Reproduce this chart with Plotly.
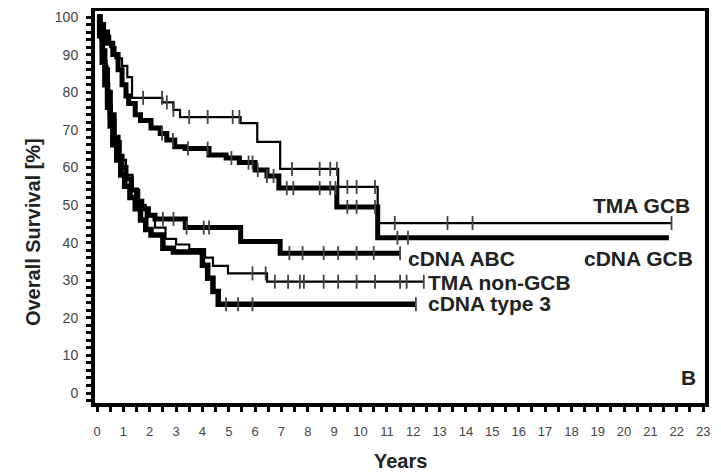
import plotly.graph_objects as go

# ---------------- data ----------------
tma_gcb_t = [0, 0.15, 0.3, 0.5, 0.7, 0.95, 1.15, 1.33, 2.48, 2.9, 3.15, 5.45, 6.08, 6.95, 9.15, 10.65, 21.8]
tma_gcb_s = [100, 97, 95, 92, 89, 87, 84, 78.5, 77.3, 75.3, 73.4, 71.8, 66.8, 59.6, 54.8, 45.2, 45.2]
tma_gcb_c = [1.75, 2.47, 2.65, 2.9, 3.5, 4.2, 5.15, 5.4, 7.4, 8.45, 8.85, 9.1, 9.5, 9.85, 10.55, 11.3, 13.3, 14.25, 21.8]

cdna_gcb_t = [0, 0.12, 0.25, 0.4, 0.6, 0.8, 0.95, 1.1, 1.2, 1.45, 1.65, 2.05, 2.4, 2.65, 2.95, 3.35,
              4.25, 4.9, 5.4, 6.0, 6.45, 6.9, 9.1, 10.65, 21.7]
cdna_gcb_s = [100, 98, 96, 93, 90, 86, 82, 79, 77, 74, 72.5, 70.5, 69, 67.3, 65.5, 65,
              63.3, 62.5, 61.3, 59.3, 57.7, 54.5, 49.5, 41.3, 41.3]
cdna_gcb_c = [2.47, 2.88, 3.45, 4.2, 5.1, 5.75, 5.9, 6.1, 6.45, 6.7, 7.2, 7.45, 8.45, 8.85, 9.05,
              9.5, 9.85, 10.55, 11.4, 11.8]

cdna_abc_t = [0, 0.1, 0.2, 0.3, 0.4, 0.5, 0.65, 0.8, 0.95, 1.1, 1.3, 1.5, 1.7, 1.95, 2.2, 3.35, 5.45, 6.95, 11.5]
cdna_abc_s = [100, 96, 91, 86, 80, 74, 68, 63, 60, 57, 54, 51, 49, 47.3, 46.3, 44, 40.3, 37.2, 37.2]
cdna_abc_c = [2.5, 2.9, 3.4, 4.05, 4.25, 7.3, 7.8, 8.6, 9.15, 9.85, 10.5, 11.5]

tma_non_t = [0, 0.12, 0.25, 0.4, 0.55, 0.7, 0.9, 1.1, 1.35, 1.6, 1.85, 2.2, 2.6, 3.0, 3.5, 4.1, 4.4, 4.97, 6.45, 12.4]
tma_non_s = [100, 94, 87, 80, 73, 67, 62, 58, 54, 50, 47, 44, 41, 39.5, 38.3, 36, 33.8, 31.8, 29.6, 29.6]
tma_non_c = [5.9, 6.4, 6.75, 7.25, 7.7, 7.85, 8.6, 9.15, 9.85, 10.55, 11.5, 11.75, 12.4]

cdna_t3_t = [0, 0.1, 0.2, 0.3, 0.4, 0.5, 0.6, 0.75, 0.9, 1.05, 1.25, 1.45, 1.65, 1.85, 2.05, 2.5, 2.9,
             4.0, 4.2, 4.4, 4.6, 12.1]
cdna_t3_s = [100, 95, 88, 82, 76, 71, 66, 62, 58, 55, 52, 49, 46, 43.5, 42, 38.5, 37.5,
             34, 30.5, 27, 23.6, 23.6]
cdna_t3_c = [4.9, 5.35, 5.9, 12.1]

x_ticks = list(range(0, 24))
y_ticks = list(range(0, 101, 10))

curve_labels = ["TMA GCB", "cDNA GCB", "cDNA ABC", "TMA non-GCB", "cDNA type 3"]

# ---------------- figure ----------------
def step_at(ts, ss, t):
    v = ss[0]
    for ti, si in zip(ts, ss):
        if ti <= t:
            v = si
    return v

series = [
    (tma_gcb_t, tma_gcb_s, tma_gcb_c, 2.2),
    (cdna_gcb_t, cdna_gcb_s, cdna_gcb_c, 5),
    (cdna_abc_t, cdna_abc_s, cdna_abc_c, 5),
    (tma_non_t, tma_non_s, tma_non_c, 2.2),
    (cdna_t3_t, cdna_t3_s, cdna_t3_c, 5.5),
]

fig = go.Figure()
for (ts, ss, cs, w), name in zip(series, curve_labels):
    fig.add_trace(go.Scatter(x=ts, y=ss, mode="lines", line=dict(color="black", width=w, shape="hv"),
                             name=name, showlegend=False))
    fig.add_trace(go.Scatter(x=cs, y=[step_at(ts, ss, c) for c in cs], mode="markers",
                             marker=dict(symbol="line-ns", size=10, line=dict(color="#444", width=1.8)),
                             showlegend=False, hoverinfo="skip"))

font_main = "Liberation Sans, Arial, sans-serif"

ann = [
    dict(text="TMA GCB", x=20.65, y=50.0, xanchor="center", yanchor="middle"),
    dict(text="cDNA GCB", x=20.53, y=35.9, xanchor="center", yanchor="middle"),
    dict(text="cDNA ABC", x=11.72, y=35.9, xanchor="left", yanchor="middle"),
    dict(text="TMA non-GCB", x=12.5, y=29.3, xanchor="left", yanchor="middle"),
    dict(text="cDNA type 3", x=12.5, y=23.9, xanchor="left", yanchor="middle"),
    dict(text="B", x=22.45, y=4.0, xanchor="center", yanchor="middle"),
]
annotations = []
for a in ann:
    a.update(xref="x", yref="y", showarrow=False,
             text="<b>" + a["text"] + "</b>",
             font=dict(family=font_main, size=21, color="#222"))
    annotations.append(a)
annotations.append(dict(text="<b>Overall Survival [%]</b>", xref="paper", yref="paper", x=-0.1016, y=0.436,
                        textangle=-90, showarrow=False, xanchor="center", yanchor="middle",
                        font=dict(family=font_main, size=20, color="#222")))
annotations.append(dict(text="<b>Years</b>", xref="paper", yref="paper", x=0.5, y=-0.148,
                        showarrow=False, xanchor="center", yanchor="middle",
                        font=dict(family=font_main, size=20, color="#222")))

# the page body adds an 8px offset, so the figure is sized/margined to compensate
fig.update_layout(
    width=713, height=464,
    margin=dict(l=87, r=16, t=3, b=69),
    plot_bgcolor="white", paper_bgcolor="white",
    annotations=annotations,
    showlegend=False,
)
fig.update_xaxes(range=[-0.076, 23.07], tickvals=x_ticks, ticktext=[str(v) for v in x_ticks],
                 showgrid=False, zeroline=False, showline=True, linewidth=4, linecolor="black",
                 mirror=True, ticks="outside", ticklen=5, tickwidth=3, tickcolor="black",
                 ticklabelstandoff=8, automargin=False,
                 minor=dict(dtick=0.5, tick0=0, ticks="outside", ticklen=5, tickwidth=3, tickcolor="black"),
                 tickfont=dict(family=font_main, size=13, color="#444"))
fig.update_yaxes(range=[-2.66, 101.6], tickvals=y_ticks, ticktext=[str(v) for v in y_ticks],
                 showgrid=False, zeroline=False, showline=True, linewidth=4, linecolor="black",
                 mirror=True, ticks="outside", ticklen=5, tickwidth=3, tickcolor="black",
                 ticklabelstandoff=5, automargin=False,
                 minor=dict(dtick=2, tick0=0, ticks="outside", ticklen=5, tickwidth=3, tickcolor="black"),
                 tickfont=dict(family=font_main, size=14, color="#444"))

fig.write_html("out.html")
